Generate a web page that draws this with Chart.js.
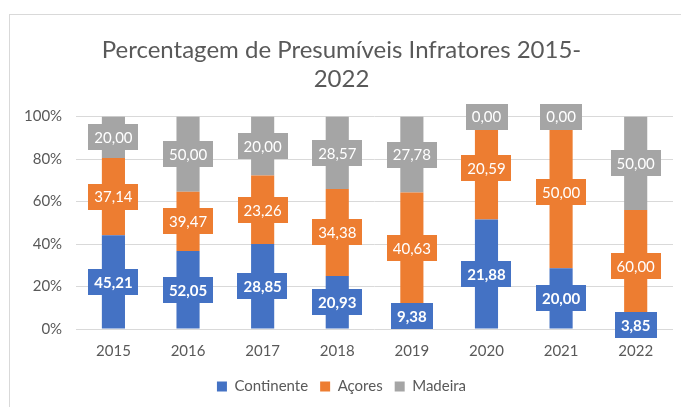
<!DOCTYPE html>
<html>
<head>
<meta charset="utf-8">
<script src="https://cdn.jsdelivr.net/npm/chart.js@4.4.1/dist/chart.umd.min.js"></script>
<style>
    body { margin: 0; background: #fff; overflow: hidden; }
    #frame { position: absolute; left: 9px; top: 14px; width: 720px; height: 440px; border: 1px solid #D9D9D9; }
    #wrap { position: absolute; left: 0; top: 0; width: 681px; height: 407px; }
</style>
</head>
<body>
<div id="frame"></div>
<div id="wrap"><canvas id="chart"></canvas></div>
<script>
const years = ["2015", "2016", "2017", "2018", "2019", "2020", "2021", "2022"];
const continente = [45.21, 52.05, 28.85, 20.93, 9.38, 21.88, 20.00, 3.85];
const acores = [37.14, 39.47, 23.26, 34.38, 40.63, 20.59, 50.00, 60.00];
const madeira = [20.00, 50.00, 20.00, 28.57, 27.78, 0.00, 0.00, 50.00];
const yTicks = [0, 20, 40, 60, 80, 100];

let font = "Lato";
let textColor = "#595959";
let blue = "#4472C4", orange = "#ED7D31", gray = "#A5A5A5";

// 100% stacked: each bar shows the share of the year's total
const totals = years.map((_, i) => continente[i] + acores[i] + madeira[i]);
const share = arr => arr.map((v, i) => v / totals[i] * 100);

const fmt = v => v.toFixed(2).replace(".", ",");

// boxed value labels, drawn over the bars
const boxLabels = {
    id: "boxLabels",
    afterDatasetsDraw(chart) {
        const ctx = chart.ctx;
        ctx.save();
        chart.data.datasets.forEach((ds, di) => {
            const meta = chart.getDatasetMeta(di);
            ctx.font = (di === 0 ? "bold " : "") + "15px " + font;
            meta.data.forEach((bar, i) => {
                const txt = fmt(ds.raw[i]);
                const cy = (bar.y + bar.base) / 2;
                const w = ctx.measureText(txt).width + 12;
                const h = 26;
                ctx.fillStyle = ds.backgroundColor;
                ctx.fillRect(Math.round(bar.x - w / 2), Math.round(cy - h / 2), Math.round(w), h);
                ctx.fillStyle = "#fff";
                ctx.textAlign = "center";
                ctx.textBaseline = "middle";
                ctx.fillText(txt, bar.x, cy + 1);
            });
        });
        ctx.restore();
    }
};

new Chart(document.getElementById("chart"), {
    type: "bar",
    data: {
        labels: years,
        datasets: [
            { label: "Continente", data: share(continente), raw: continente, backgroundColor: blue },
            { label: "Açores", data: share(acores), raw: acores, backgroundColor: orange },
            { label: "Madeira", data: share(madeira), raw: madeira, backgroundColor: gray }
        ]
    },
    options: {
        responsive: true,
        maintainAspectRatio: false,
        animation: false,
        events: [],
        barPercentage: 0.31,
        categoryPercentage: 1,
        layout: { padding: { left: 10, right: 8, top: 20, bottom: 3 } },
        scales: {
            x: {
                stacked: true,
                grid: { display: false },
                border: { display: false },
                afterFit: s => { s.height += 2; },
                ticks: { color: textColor, font: { family: font, size: 15 }, padding: 5 }
            },
            y: {
                stacked: true,
                min: 0,
                max: 100,
                afterBuildTicks: axis => { axis.ticks = yTicks.map(v => ({ value: v })); },
                grid: { color: "#D9D9D9", drawTicks: false },
                border: { display: false },
                ticks: {
                    color: textColor,
                    font: { family: font, size: 15 },
                    padding: 14,
                    callback: v => v + "%"
                }
            }
        },
        plugins: {
            title: {
                display: true,
                text: ["Percentagem de Presumíveis Infratores 2015-", "2022"],
                color: textColor,
                font: { family: font, size: 24, weight: "normal", lineHeight: 1.2 },
                padding: { top: 16, bottom: 23 }
            },
            legend: {
                position: "bottom",
                labels: {
                    color: textColor,
                    font: { family: font, size: 15 },
                    boxWidth: 10,
                    boxHeight: 10,
                    padding: 12
                }
            },
            tooltip: { enabled: false }
        }
    },
    plugins: [boxLabels]
});
</script>
</body>
</html>
